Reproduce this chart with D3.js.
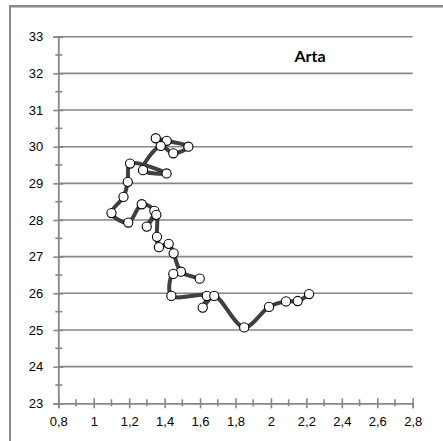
<!DOCTYPE html>
<html><head><meta charset="utf-8">
<script src="https://cdn.jsdelivr.net/npm/d3@7"></script>
<style>
body{margin:0;background:#fff;}
svg{display:block;font-family:Lato,"Open Sans",sans-serif;}
</style></head>
<body>
<svg id="c" width="443" height="441"></svg>
<script>
const title = "Arta";
const xValues = [1.350,1.412,1.534,1.449,1.378,1.278,1.411,1.205,1.192,1.168,1.100,1.195,1.271,1.342,1.299,1.353,1.357,1.368,1.423,1.451,1.492,1.598,1.449,1.438,1.638,1.615,1.680,1.849,1.989,2.085,2.151,2.215];
const yValues = [30.23,30.16,30.00,29.82,30.02,29.36,29.27,29.54,29.04,28.63,28.19,27.93,28.43,28.25,27.82,28.14,27.54,27.26,27.35,27.09,26.59,26.40,26.53,25.93,25.93,25.61,25.93,25.07,25.63,25.78,25.79,25.98];
const xTicks = [0.8,1,1.2,1.4,1.6,1.8,2,2.2,2.4,2.6,2.8];
const yTicks = [23,24,25,26,27,28,29,30,31,32,33];

const svg = d3.select("#c");
const gray = "#878787";
// outer frame lines
svg.append("line").attr("x1",10).attr("x2",443).attr("y1",6.3).attr("y2",6.3).attr("stroke","#8a8a8a").attr("stroke-width",2.6);
svg.append("line").attr("x1",10).attr("x2",10).attr("y1",5).attr("y2",441).attr("stroke","#8a8a8a").attr("stroke-width",2);

const x = d3.scaleLinear().domain([0.8,2.8]).range([58.3,412.7]);
const y = d3.scaleLinear().domain([23,33]).range([403.3,36.7]);
const fmt = d => (Math.round(d*10)/10).toString().replace(".", ",");

// gridlines
svg.append("g").selectAll("line").data(yTicks.slice(1)).join("line")
  .attr("x1",x(0.8)).attr("x2",x(2.8)).attr("y1",d=>y(d)).attr("y2",d=>y(d))
  .attr("stroke",gray).attr("stroke-width",1.6);

// y axis
const yAxis = svg.append("g").attr("transform",`translate(${x(0.8)},0)`)
  .call(d3.axisLeft(y).tickValues(yTicks).tickFormat(fmt).tickSize(5).tickPadding(10));
yAxis.select(".domain").attr("stroke",gray).attr("stroke-width",1.8);
yAxis.selectAll(".tick line").attr("stroke",gray).attr("stroke-width",1.6).attr("x1",5).attr("x2",-5);
yAxis.selectAll("text").attr("font-size",13).attr("fill","#000");
const yMinor = d3.range(23.5,33,1);
yAxis.append("g").selectAll("line").data(yMinor).join("line")
  .attr("x1",-3).attr("x2",4).attr("y1",d=>y(d)).attr("y2",d=>y(d)).attr("stroke",gray).attr("stroke-width",1.6);

// x axis
const xAxis = svg.append("g").attr("transform",`translate(0,${y(23)})`)
  .call(d3.axisBottom(x).tickValues(xTicks).tickFormat(fmt).tickSize(5).tickPadding(8));
xAxis.select(".domain").attr("stroke",gray).attr("stroke-width",1.8);
xAxis.selectAll(".tick line").attr("stroke",gray).attr("stroke-width",1.6).attr("y1",-5).attr("y2",5);
xAxis.selectAll("text").attr("font-size",13).attr("fill","#000");
const xMinor = d3.range(0.9,2.8,0.2);
xAxis.append("g").selectAll("line").data(xMinor).join("line")
  .attr("y1",-4).attr("y2",3).attr("x1",d=>x(d)).attr("x2",d=>x(d)).attr("stroke",gray).attr("stroke-width",1.6);

// title
svg.append("text").attr("x",310).attr("y",62).attr("text-anchor","middle")
  .attr("font-size",16).attr("font-weight","bold").text(title);

// data
const pts = xValues.map((v,i)=>[v,yValues[i]]);
const line = d3.line().x(d=>x(d[0])).y(d=>y(d[1])).curve(d3.curveCatmullRom.alpha(0.5));
svg.append("path").attr("d",line(pts)).attr("fill","none").attr("stroke","#404040").attr("stroke-width",4).attr("stroke-linejoin","round");
svg.append("g").selectAll("circle").data(pts).join("circle")
  .attr("cx",d=>x(d[0])).attr("cy",d=>y(d[1])).attr("r",4.6)
  .attr("fill","#fff").attr("stroke","#000").attr("stroke-width",1.1);
</script>
</body></html>
